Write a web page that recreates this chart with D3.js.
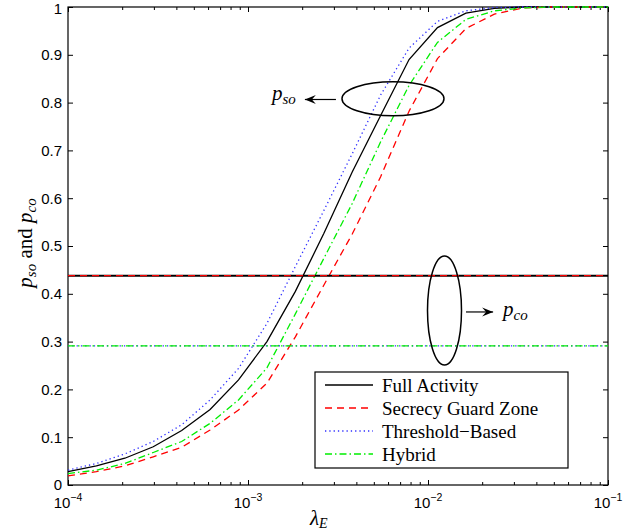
<!DOCTYPE html>
<html>
<head>
<meta charset="utf-8">
<script src="https://cdn.jsdelivr.net/npm/d3@7"></script>
<style>
  body { margin: 0; background: #fff; }
  .tick text { font-family: "Liberation Sans", Arial, sans-serif; font-size: 15px; fill: #000; }
</style>
</head>
<body>
<div id="chart"></div>
<script>
//sample points of lambda_E
var lambdaE = [1e-4, 1.438e-4, 2.069e-4, 2.976e-4, 4.281e-4, 6.158e-4, 8.859e-4, 1.274e-3, 1.833e-3, 2.637e-3,
               3.793e-3, 5.456e-3, 7.848e-3, 1.129e-2, 1.624e-2, 2.336e-2, 3.360e-2, 4.833e-2, 6.952e-2, 1e-1];

//p_so for each scheme
var fullSo      = [0.028, 0.040, 0.056, 0.080, 0.114, 0.158, 0.220, 0.300, 0.405, 0.526,
                   0.655, 0.773, 0.890, 0.957, 0.987, 0.997, 1, 1, 1, 1];
var guardSo     = [0.019, 0.028, 0.040, 0.059, 0.079, 0.115, 0.157, 0.213, 0.310, 0.418,
                   0.525, 0.645, 0.782, 0.892, 0.955, 0.985, 0.998, 1, 1, 1];
var thresholdSo = [0.031, 0.045, 0.065, 0.091, 0.126, 0.178, 0.244, 0.338, 0.457, 0.574,
                   0.693, 0.816, 0.914, 0.970, 0.992, 0.999, 1, 1, 1, 1];
var hybridSo    = [0.024, 0.031, 0.045, 0.068, 0.091, 0.129, 0.178, 0.245, 0.358, 0.474,
                   0.589, 0.718, 0.836, 0.926, 0.974, 0.992, 0.998, 1, 1, 1];

//p_co (flat in lambda_E)
var coValues = [0.438, 0.438, 0.291, 0.291];

var seriesNames = ['Full Activity', 'Secrecy Guard Zone', 'Threshold\u2212Based', 'Hybrid'];

//tick labels
var xTickVals = [1e-4, 1e-3, 1e-2, 1e-1];
var xTickExp = ['\u22124', '\u22123', '\u22122', '\u22121'];
var yTickVals = [0, 0.1, 0.2, 0.3, 0.4, 0.5, 0.6, 0.7, 0.8, 0.9, 1];

//line styles per scheme
var styles = [
  { color: '#000000', dash: null,          width: 1.3 },
  { color: '#ff0000', dash: '7,5',         width: 1.3 },
  { color: '#3030ff', dash: '1.3,3',       width: 1.3 },
  { color: '#00ee00', dash: '7,3,1.5,3',   width: 1.3 }
];

//Width and height
var w = 641;
var h = 531;
var m = { left: 68, right: 33, top: 7, bottom: 46 };
var pw = w - m.left - m.right;
var ph = h - m.top - m.bottom;

var svg = d3.select('#chart')
            .append('svg')
            .attr('width', w)
            .attr('height', h);

var g = svg.append('g').attr('transform', 'translate(' + m.left + ',' + m.top + ')');

var x = d3.scaleLog().domain([1e-4, 1e-1]).range([0, pw]);
var y = d3.scaleLinear().domain([0, 1]).range([ph, 0]);

//minor ticks from the log scale itself
var minorVals = x.ticks().filter(function (v) { return xTickVals.indexOf(v) < 0; });

//axes, ticks pointing inward
g.append('g').attr('transform', 'translate(0,' + ph + ')')
  .call(d3.axisBottom(x).tickValues(xTickVals).tickSize(-5).tickFormat(''));
g.append('g').attr('transform', 'translate(0,' + ph + ')')
  .call(d3.axisBottom(x).tickValues(minorVals).tickSize(-3).tickFormat(''));
g.append('g')
  .call(d3.axisTop(x).tickValues(xTickVals).tickSize(-5).tickFormat(''));
g.append('g')
  .call(d3.axisTop(x).tickValues(minorVals).tickSize(-3).tickFormat(''));
g.append('g')
  .call(d3.axisLeft(y).tickValues(yTickVals).tickSize(-5).tickPadding(6).tickFormat(d3.format('~g')));
g.append('g').attr('transform', 'translate(' + pw + ',0)')
  .call(d3.axisRight(y).tickValues(yTickVals).tickSize(-5).tickFormat(''));

g.selectAll('.domain').remove();
g.selectAll('.tick line').attr('stroke', '#000');
//top label sits on the window edge, nudge it down a little
g.selectAll('.tick text').filter(function (d) { return d === 1; }).attr('dy', '0.45em');

//x tick labels with exponent
var xl = g.append('g').selectAll('text')
  .data(xTickVals)
  .enter()
  .append('text')
  .attr('x', function (d) { return x(d); })
  .attr('y', ph + 23)
  .attr('text-anchor', 'middle')
  .style('font-family', '"Liberation Sans", Arial, sans-serif')
  .style('font-size', '15px');
xl.append('tspan').text('10');
xl.append('tspan').attr('dy', -7).style('font-size', '10.5px').text(function (d, i) { return xTickExp[i]; });

//frame
g.append('rect')
  .attr('width', pw).attr('height', ph)
  .attr('fill', 'none').attr('stroke', '#000').attr('stroke-width', 1.2);

//p_so curves
var line = d3.line()
  .x(function (d, i) { return x(lambdaE[i]); })
  .y(function (d) { return y(d); });

[fullSo, guardSo, thresholdSo, hybridSo].forEach(function (s, i) {
  g.append('path')
    .datum(s)
    .attr('d', line)
    .attr('fill', 'none')
    .attr('stroke', styles[i].color)
    .attr('stroke-width', styles[i].width)
    .attr('stroke-dasharray', styles[i].dash);
});

//p_co lines
coValues.forEach(function (v, i) {
  g.append('line')
    .attr('x1', x(lambdaE[0])).attr('x2', x(lambdaE[lambdaE.length - 1]))
    .attr('y1', y(v)).attr('y2', y(v))
    .attr('stroke', styles[i].color)
    .attr('stroke-width', i === 0 ? 2 : styles[i].width)
    .attr('stroke-dasharray', styles[i].dash);
});

//annotations
var serif = '"Liberation Serif", "Times New Roman", serif';

function arrow(x1, x2, yy) {
  g.append('line')
    .attr('x1', x(x1)).attr('x2', x(x2)).attr('y1', y(yy)).attr('y2', y(yy))
    .attr('stroke', '#000').attr('stroke-width', 1.2);
  var tx = x(x2), ty = y(yy), dir = x2 > x1 ? -1 : 1;
  g.append('path')
    .attr('d', 'M' + tx + ',' + ty +
               'L' + (tx + dir * 11) + ',' + (ty - 4.5) +
               'L' + (tx + dir * 7) + ',' + ty +
               'L' + (tx + dir * 11) + ',' + (ty + 4.5) + 'Z')
    .attr('fill', '#000');
}

function ptext(lx, ly, sub) {
  var t = g.append('text')
    .attr('x', x(lx)).attr('y', y(ly))
    .style('font-family', serif).style('font-style', 'italic').style('font-size', '21px');
  t.append('tspan').text('p');
  t.append('tspan').attr('dy', 4).style('font-size', '15px').text(sub);
}

g.append('ellipse')
  .attr('cx', x(6.39e-3)).attr('cy', y(0.808)).attr('rx', 51).attr('ry', 17)
  .attr('fill', 'none').attr('stroke', '#000').attr('stroke-width', 1.5);
arrow(3.08e-3, 2.07e-3, 0.8065);
ptext(1.36e-3, 0.805, 'so');

g.append('ellipse')
  .attr('cx', x(1.235e-2)).attr('cy', y(0.365)).attr('rx', 17).attr('ry', 54.5)
  .attr('fill', 'none').attr('stroke', '#000').attr('stroke-width', 1.5);
arrow(1.626e-2, 2.30e-2, 0.362);
ptext(2.61e-2, 0.3536, 'co');

//legend
var lg = svg.append('g').attr('transform', 'translate(315,372)');
lg.append('rect')
  .attr('width', 253).attr('height', 96)
  .attr('fill', '#fff').attr('stroke', '#000').attr('stroke-width', 1.2);

var rows = lg.selectAll('g.row')
  .data(seriesNames)
  .enter()
  .append('g')
  .attr('class', 'row')
  .attr('transform', function (d, i) { return 'translate(0,' + (13 + i * 23) + ')'; });

rows.append('line')
  .attr('x1', 10).attr('x2', 58)
  .attr('stroke', function (d, i) { return styles[i].color; })
  .attr('stroke-width', function (d, i) { return styles[i].width + 0.4; })
  .attr('stroke-dasharray', function (d, i) { return styles[i].dash; });

rows.append('text')
  .attr('x', 67).attr('y', 6.5)
  .style('font-family', serif).style('font-size', '19px')
  .text(function (d) { return d; });

//axis labels
var xt = svg.append('text')
  .attr('x', 310).attr('y', 525)
  .style('font-family', serif).style('font-style', 'italic').style('font-size', '21px');
xt.append('tspan').text('\u03bb');
xt.append('tspan').attr('dy', 3).style('font-size', '14px').text('E');

var yt = svg.append('text')
  .attr('transform', 'translate(32,243) rotate(-90)')
  .attr('text-anchor', 'middle')
  .style('font-family', serif).style('font-size', '21px');
yt.append('tspan').style('font-style', 'italic').text('p');
yt.append('tspan').attr('dy', 4).style('font-style', 'italic').style('font-size', '15px').text('so');
yt.append('tspan').attr('dy', -4).text(' and ');
yt.append('tspan').style('font-style', 'italic').text('p');
yt.append('tspan').attr('dy', 4).style('font-style', 'italic').style('font-size', '15px').text('co');
</script>
</body>
</html>
